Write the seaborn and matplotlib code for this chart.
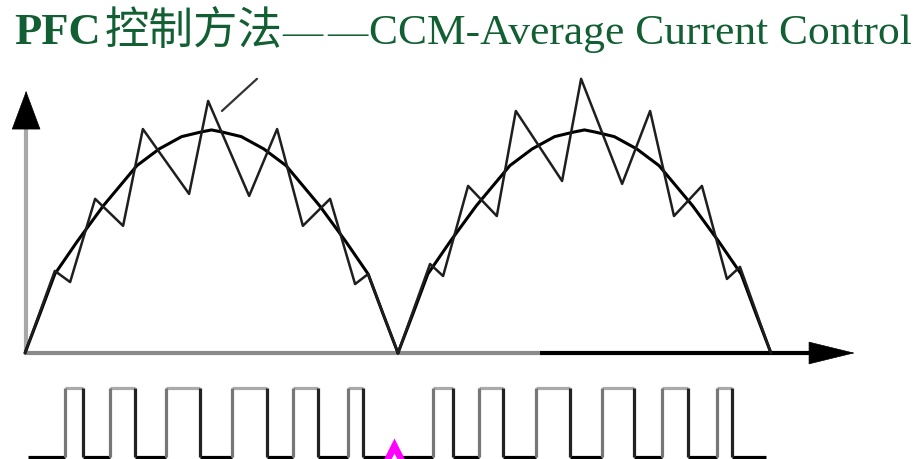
import numpy as np
import pandas as pd
import matplotlib
matplotlib.use("Agg")
import matplotlib.pyplot as plt
import seaborn as sns

# ---------------- data ----------------
title_parts = ["PFC", "控制方法", "—", "—", "CCM-Average Current Control"]

# average (reference) current, one half mains cycle, time in ms, current normalised
arc_t = [0, 0.4, 0.8, 1.4, 2.1, 3.0, 3.6, 4.2, 4.7, 5.0, 5.3, 5.8, 6.4, 7.0, 7.9, 8.6, 9.2, 9.6, 10.0]
arc_i = [0, 0.175, 0.354, 0.50, 0.66, 0.84, 0.915, 0.97, 0.99, 1.0, 0.99, 0.97, 0.915, 0.84, 0.66, 0.50, 0.354, 0.175, 0]
half_cycle = 10.0

# inductor current with switching ripple
ripple_t = [0, 0.80, 1.21, 1.88, 2.63, 3.16, 4.40, 4.91, 6.01, 6.76, 7.45, 8.18, 8.85, 9.20, 10.0,
            10.86, 11.21, 11.88, 12.65, 13.16, 14.40, 14.91, 16.01, 16.76, 17.40, 18.15, 18.82, 19.17, 20.0]
ripple_i = [0, 0.368, 0.318, 0.691, 0.570, 1.004, 0.713, 1.130, 0.704, 1.004, 0.570, 0.691, 0.309, 0.354, 0,
            0.399, 0.345, 0.749, 0.614, 1.085, 0.771, 1.229, 0.758, 1.085, 0.614, 0.749, 0.332, 0.386, 0]

# gate drive pulses (rise, fall, rise, fall, ...)
gate_start, gate_end = 0.08, 19.87
gate_edges = [1.07, 1.55, 2.28, 2.95, 3.78, 4.69, 5.55, 6.49, 7.18, 7.86, 8.66, 9.06,
              10.94, 11.47, 12.17, 12.82, 13.70, 14.61, 15.47, 16.33, 17.08, 17.77, 18.55, 18.95]

# pointer line near the peak ripple
pointer_t = [5.28, 6.22]
pointer_i = [1.085, 1.229]

# magenta marker under the zero crossing
mark_t = [9.89]
mark_v = [-0.029]

# ---------------- styling / layout ----------------
sns.set_theme(style="white")
plt.rcParams["font.family"] = ["Liberation Serif", "Noto Sans CJK SC", "DejaVu Sans"]

W, H = 922, 460
fig = plt.figure(figsize=(W / 100, H / 100), dpi=100)
fig.patch.set_facecolor("white")

xlim = (-0.670, 24.05)

ax = fig.add_axes([0, 0.1913, 1, 0.6783])
ax.set_xlim(*xlim)
ax.set_ylim(-0.0807, 1.318)
ax.patch.set_alpha(0)

axg = fig.add_axes([0, 0, 1, 0.1739])
axg.set_xlim(*xlim)
axg.set_ylim(-0.029, 1.130)
axg.patch.set_alpha(0)

for a in (ax, axg):
    a.set_axis_off()

# axes with arrows
y_axis_t = 0.03
y_arrow_base, y_arrow_tip = 1.036, 1.175
x_gray_end, x_arrow_base, x_arrow_tip = 13.81, 21.26, 22.25

ax.plot([y_axis_t, y_axis_t], [0, y_arrow_base], color="#a8a8a8", lw=3.0, solid_capstyle="butt", zorder=2)
ax.annotate("", xy=(y_axis_t, y_arrow_tip), xytext=(y_axis_t, y_arrow_base),
            arrowprops=dict(arrowstyle="-|>,head_length=2.23,head_width=0.83",
                            color="black", lw=0.5, shrinkA=0, shrinkB=0), zorder=3)
ax.plot([0, x_gray_end], [0, 0], color="#8a8a8a", lw=3.0, solid_capstyle="butt", zorder=2)
ax.plot([x_gray_end, x_arrow_base], [0, 0], color="black", lw=3.0, solid_capstyle="butt", zorder=2)
ax.annotate("", xy=(x_arrow_tip, 0), xytext=(x_arrow_base, 0),
            arrowprops=dict(arrowstyle="-|>,head_length=2.66,head_width=0.65",
                            color="black", lw=0.5, shrinkA=0, shrinkB=0), zorder=3)

# average current arcs
arc_df = pd.DataFrame({
    "t": list(arc_t) + [v + half_cycle for v in arc_t],
    "i": list(arc_i) + list(arc_i),
    "half": ["a"] * len(arc_t) + ["b"] * len(arc_t),
})
for h, g in arc_df.groupby("half"):
    sns.lineplot(data=g, x="t", y="i", sort=False, estimator=None, color="black",
                 lw=2.2, ax=ax, zorder=4)

# ripple current
rip_df = pd.DataFrame({"t": ripple_t, "i": ripple_i})
sns.lineplot(data=rip_df, x="t", y="i", sort=False, estimator=None, color="#1e1e1e",
             lw=1.8, ax=ax, zorder=5)

# pointer line
sns.lineplot(x=pointer_t, y=pointer_i, sort=False, estimator=None, color="#333333", lw=1.6, ax=ax, zorder=5)

# gate pulses
bounds = [gate_start] + list(gate_edges) + [gate_end]
for k in range(len(bounds) - 1):
    level = 1 if k % 2 == 1 else 0
    axg.hlines(level, bounds[k], bounds[k + 1], color="#aaaaaa" if level else "black", lw=2.3, zorder=2)
for k, e in enumerate(gate_edges):
    axg.vlines(e, 0, 1, color="#777777" if k % 2 == 0 else "#222222", lw=2.3, zorder=3)

# magenta marker (filled, with a small white notch at its foot)
axg.plot(mark_t, mark_v, marker="^", ms=30, mfc="#ff00ff", mec="none", ls="none", zorder=5)
axg.plot(mark_t, mark_v, marker="^", ms=9, mfc="white", mec="none", ls="none", zorder=6)

axg.set_xlabel("")
ax.set_xlabel("")
ax.set_ylabel("")
axg.set_ylabel("")

# title, set piece by piece to follow the spacing of the original
title_color = "#125f33"
title_x_px = [14, 105, 282, 327, 369]
title_size = [32, 32, 29, 29, 31.3]
title_weight = ["bold", "normal", "normal", "normal", "normal"]
for txt, xp, fs, wt in zip(title_parts, title_x_px, title_size, title_weight):
    fig.text(xp / W, 1 - 44 / H, txt, color=title_color, fontsize=fs, va="baseline",
             ha="left", fontweight=wt)

fig.savefig("out.png", dpi=100, facecolor="white")
